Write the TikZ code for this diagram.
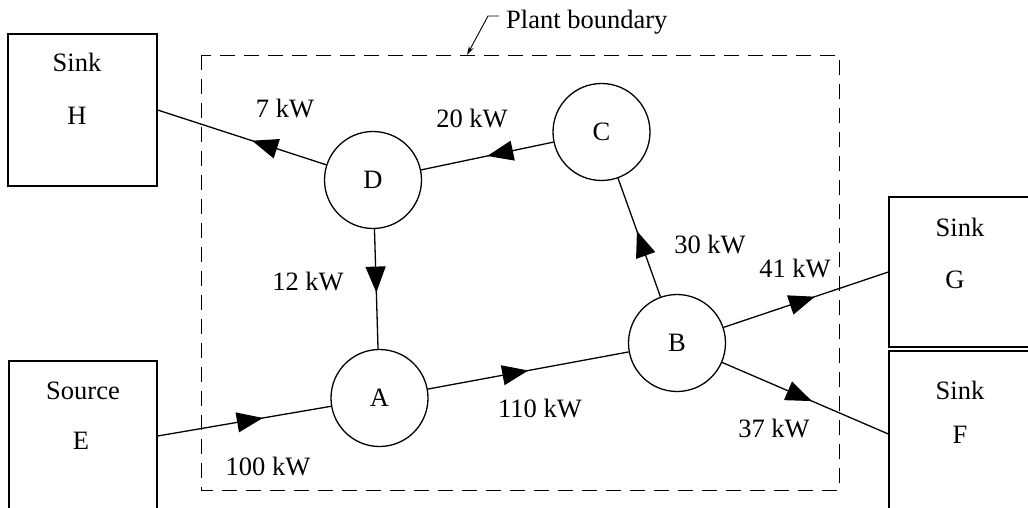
\documentclass[tikz,border=0pt]{standalone}
\usepackage{fontspec}
\setmainfont{Liberation Serif}
\usetikzlibrary{arrows.meta,decorations.markings}
\tikzset{
  unit/.style={draw, circle, line width=1.3pt, minimum size=97pt, inner sep=0pt, font=\fontsize{26.5}{31}\selectfont},
  ext/.style={draw, rectangle, line width=1.3pt, inner sep=0pt},
  lbl/.style={inner sep=0pt, font=\fontsize{26.5}{31}\selectfont},
  flow/.style={line width=1.3pt, postaction={decorate},
    decoration={markings, mark=at position #1 with {\arrow{Triangle[length=26pt,width=20pt]}}}},
  boundary/.style={line width=0.9pt, dash pattern=on 15pt off 9pt}
}
\begin{document}
\begin{tikzpicture}[x=1pt,y=-1pt]
\clip (0,0) rectangle (1028,508);
\fill[white] (0,0) rectangle (1028,508);
% plant boundary
\draw[boundary] (201,55) rectangle (839,490);
\node[lbl, anchor=base west] (pbl) at (506,29) {Plant boundary};
\coordinate (pbk) at (488,16);
\coordinate (pbt) at (467,55);
\draw[line width=0.9pt, -{Stealth[length=9pt,width=5pt]}] (pbl.base west |- pbk) ++(-7,0) -- (pbk) -- (pbt);
% external boxes
\node[ext, minimum width=149pt, minimum height=152pt] (H) at (82.5,110) {};
\node[ext, minimum width=148pt, minimum height=150pt] (E) at (83,436) {};
\node[ext, minimum width=151pt, minimum height=150pt] (G) at (964.5,272) {};
\node[ext, minimum width=151pt, minimum height=166pt] (F) at (964.5,434) {};
\node[lbl] (Hs) at (77,62) {Sink};
\node[lbl] (Hn) at (77,116) {H};
\node[lbl] (Es) at (83,391) {Source};
\node[lbl] (En) at (81,441) {E};
\node[lbl] (Gs) at (960,227) {Sink};
\node[lbl] (Gn) at (955,280) {G};
\node[lbl] (Fs) at (960,390) {Sink};
\node[lbl] (Fn) at (960,435) {F};
% units
\node[unit] (A) at (379.5,398) {A};
\node[unit] (B) at (677,343) {B};
\node[unit] (C) at (601.5,132) {C};
\node[unit] (D) at (373,180) {D};
% flows
\draw[flow=0.44] (D) -- (H.east);
\draw[flow=0.5] (C) -- (D);
\draw[flow=0.53] (D) -- (A);
\draw[flow=0.607] (E.east) -- (A);
\draw[flow=0.5] (A) -- (B);
\draw[flow=0.555] (B) -- (C);
\draw[flow=0.554] (B) -- (G.west);
\draw[flow=0.54] (B) -- (F.west);
% flow labels
\node[lbl] (l7) at (285,109) {7 kW};
\node[lbl] (l20) at (472,119) {20 kW};
\node[lbl] (l12) at (308,282) {12 kW};
\node[lbl] (l30) at (710,245) {30 kW};
\node[lbl] (l41) at (795,269) {41 kW};
\node[lbl] (l110) at (540,409) {110 kW};
\node[lbl] (l37) at (774,429) {37 kW};
\node[lbl] (l100) at (268,467) {100 kW};
\end{tikzpicture}
\end{document}
